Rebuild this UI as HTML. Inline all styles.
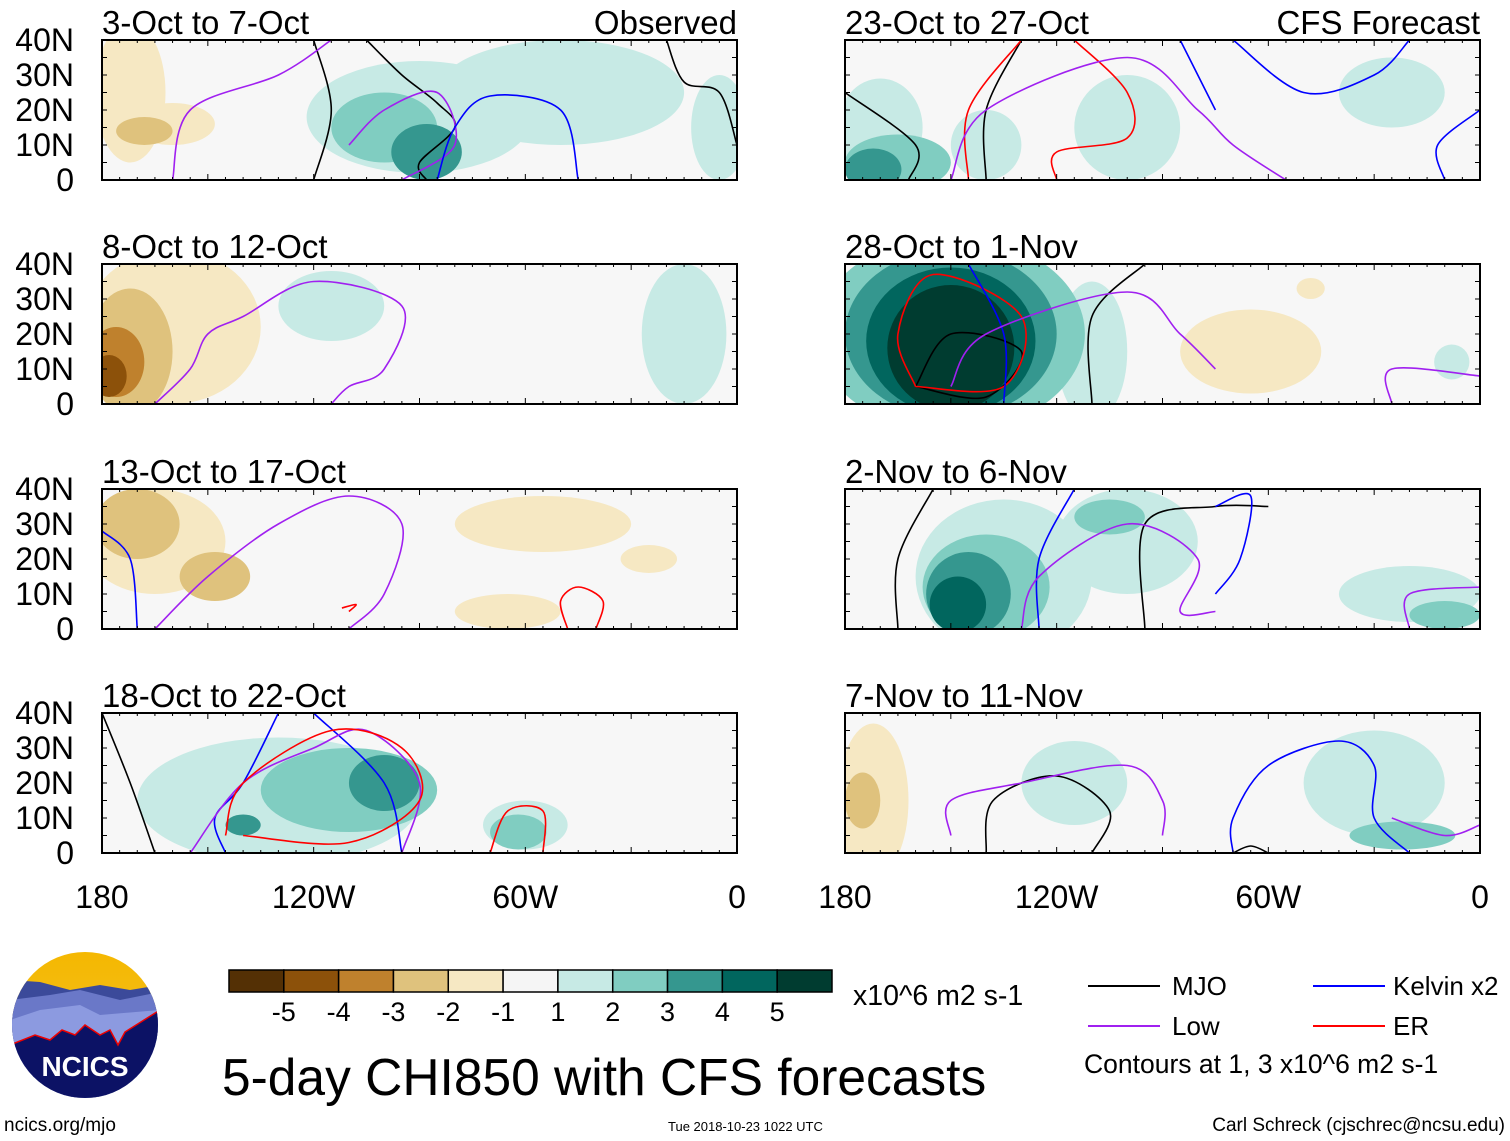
<!DOCTYPE html>
<html><head><meta charset="utf-8"><style>
body{margin:0;background:#fff;}
svg{display:block;font-family:"Liberation Sans",Arial,sans-serif;}
</style></head><body>
<svg id="chart" width="1510" height="1141" viewBox="0 0 1510 1141" xmlns="http://www.w3.org/2000/svg">
<defs>
<linearGradient id="sky" x1="0" y1="0" x2="0" y2="1"><stop offset="0" stop-color="#f5b800"/><stop offset="1" stop-color="#f0c030"/></linearGradient>
<clipPath id="logoclip"><circle cx="85" cy="1025" r="73"/></clipPath>
</defs>
<g clip-path="url(#logoclip)">
<rect x="10" y="950" width="150" height="150" fill="url(#sky)"/>
<path d="M10 980 L40 982 L70 990 L100 985 L130 990 L160 985 L160 1100 L10 1100Z" fill="#3b4a9a"/>
<path d="M10 1000 L50 995 L80 990 L120 1000 L160 992 L160 1100 L10 1100Z" fill="#6a78c8"/>
<path d="M10 1020 L40 1010 L80 1005 L100 1015 L160 1010 L160 1100 L10 1100Z" fill="#8c9ae0"/>
<path d="M10 1045 L35 1035 L50 1040 L62 1030 L75 1035 L85 1025 L100 1035 L110 1030 L118 1045 L125 1032 L160 1010 L160 1100 L10 1100Z" fill="#0c1265" stroke="#e00" stroke-width="1.5"/>
</g>
<text x="85" y="1076" text-anchor="middle" font-size="28" font-weight="bold" fill="#fff">NCICS</text>
<text x="4" y="1131" font-size="19">ncics.org/mjo</text>
<text x="222" y="1095" font-size="51.5">5-day CHI850 with CFS forecasts</text>
<text x="668" y="1131" font-size="13">Tue 2018-10-23 1022 UTC</text>
<text x="1505" y="1131" font-size="19" text-anchor="end">Carl Schreck (cjschrec@ncsu.edu)</text>
<text x="853" y="1005" font-size="28.5">x10^6 m2 s-1</text>
<g>
<line x1="1088" y1="986" x2="1160" y2="986" stroke="#000" stroke-width="2"/><text x="1172" y="995" font-size="26">MJO</text>
<line x1="1088" y1="1026" x2="1160" y2="1026" stroke="#a020f0" stroke-width="2"/><text x="1172" y="1035" font-size="26">Low</text>
<line x1="1313" y1="986" x2="1385" y2="986" stroke="#0000ff" stroke-width="2"/><text x="1393" y="995" font-size="26">Kelvin x2</text>
<line x1="1313" y1="1026" x2="1385" y2="1026" stroke="#ff0000" stroke-width="2"/><text x="1393" y="1035" font-size="26">ER</text>
<text x="1084" y="1073" font-size="26.5">Contours at 1, 3 x10^6 m2 s-1</text>
</g>
<g id="cbar"></g>
<g id="panels"></g>
</svg>
<script>
const levelColors=["#543005","#8c510a","#bf812d","#dfc27d","#f6e8c3","#f5f5f5","#c7eae5","#80cdc1","#35978f","#01665e","#003c30"];
const cbarLabels=["-5","-4","-3","-2","-1","1","2","3","4","5"];
const panelTitles=["3-Oct to 7-Oct","8-Oct to 12-Oct","13-Oct to 17-Oct","18-Oct to 22-Oct","23-Oct to 27-Oct","28-Oct to 1-Nov","2-Nov to 6-Nov","7-Nov to 11-Nov"];
const latTicks=[0,10,20,30,40];
const latTickLabels=["0","10N","20N","30N","40N"];
const lonTicks=[-180,-120,-60,0];
const lonTickLabels=["180","120W","60W","0"];
// blobs: [lon, lat, rxDeg, ryDeg, level]
const blobs0=[[-172,25,10,20,-1],[-160,16,12,6,-1],[-168,14,8,4,-2],[-90,18,32,16,1],[-50,25,35,15,1],[-100,15,15,10,2],[-88,8,10,8,3],[-5,15,8,15,1]];
const blobs1=[[-160,22,25,22,-1],[-172,15,12,18,-2],[-176,12,8,10,-3],[-178,8,5,6,-4],[-115,28,15,10,1],[-15,20,12,20,1]];
const blobs2=[[-165,25,20,15,-1],[-170,30,12,10,-2],[-148,15,10,7,-2],[-55,30,25,8,-1],[-65,5,15,5,-1],[-25,20,8,4,-1]];
const blobs3=[[-130,15,40,18,1],[-110,18,25,12,2],[-100,20,10,8,3],[-140,8,5,3,3],[-60,8,12,7,1],[-62,6,8,5,2]];
const blobs4=[[-170,15,12,14,1],[-165,5,15,8,2],[-172,3,8,6,3],[-140,10,10,10,1],[-100,15,15,15,1],[-25,25,15,10,1]];
const blobs5=[[-150,20,38,28,2],[-150,20,30,24,3],[-150,18,24,21,4],[-150,16,18,18,5],[-110,15,10,20,1],[-65,15,20,12,-1],[-48,33,4,3,-1],[-8,12,5,5,1]];
const blobs6=[[-135,15,25,22,1],[-140,12,18,15,2],[-145,10,12,12,3],[-148,7,8,8,4],[-100,25,20,15,1],[-105,32,10,5,2],[-20,10,20,8,1],[-10,4,10,4,2]];
const blobs7=[[-172,15,10,22,-1],[-175,15,5,8,-2],[-115,20,15,12,1],[-30,20,20,15,1],[-22,5,15,4,2]];
const panelBlobs=[blobs0,blobs1,blobs2,blobs3,blobs4,blobs5,blobs6,blobs7];
// contours: [color, [[lon,lat],...]]
const contours0=[["#000",[[-120,0],[-115,20],[-120,40]]],["#000",[[-105,40],[-95,30],[-85,22],[-80,15],[-90,5],[-88,0]]],["#a020f0",[[-160,0],[-155,20],[-130,30],[-115,40]]],["#a020f0",[[-110,10],[-100,20],[-85,25],[-80,10],[-95,0]]],["#0000ff",[[-85,0],[-80,15],[-70,24],[-50,20],[-45,0]]],["#000",[[-20,40],[-15,28],[-5,25],[0,10]]]];
const contours1=[["#a020f0",[[-165,0],[-155,10],[-150,20],[-140,25],[-120,35],[-95,28],[-100,10],[-110,5],[-115,0]]]];
const contours2=[["#0000ff",[[-180,28],[-172,20],[-170,0]]],["#a020f0",[[-165,0],[-150,15],[-130,30],[-110,38],[-95,30],[-100,10],[-110,0]]],["#ff0000",[[-48,0],[-50,8],[-45,12],[-38,8],[-40,0]]],["#ff0000",[[-112,6],[-108,7],[-110,5]]]];
const contours3=[["#000",[[-180,40],[-172,20],[-165,0]]],["#0000ff",[[-145,0],[-148,10],[-140,20],[-130,40]]],["#0000ff",[[-95,0],[-100,20],[-120,40]]],["#a020f0",[[-155,0],[-140,20],[-120,30],[-105,35],[-90,20],[-95,0]]],["#ff0000",[[-145,5],[-140,20],[-115,35],[-95,30],[-90,15],[-110,3],[-140,5]]],["#ff0000",[[-70,0],[-65,12],[-55,12],[-55,0]]]];
const contours4=[["#000",[[-180,25],[-160,10],[-162,0]]],["#000",[[-140,0],[-140,20],[-130,40]]],["#ff0000",[[-145,0],[-145,20],[-130,40]]],["#ff0000",[[-115,40],[-100,25],[-100,12],[-120,8],[-120,0]]],["#a020f0",[[-150,0],[-140,20],[-100,35],[-80,20],[-70,10],[-55,0]]],["#0000ff",[[-85,40],[-80,30],[-75,20]]],["#0000ff",[[-70,40],[-50,25],[-30,30],[-20,40]]],["#0000ff",[[-10,0],[-12,10],[0,20]]]];
const contours5=[["#000",[[-160,5],[-150,20],[-130,15],[-140,2],[-160,5]]],["#ff0000",[[-160,5],[-165,20],[-155,37],[-130,25],[-135,5],[-160,5]]],["#0000ff",[[-135,0],[-135,20],[-145,40]]],["#000",[[-110,0],[-110,25],[-95,40]]],["#a020f0",[[-150,5],[-140,20],[-100,32],[-85,20],[-75,10]]],["#a020f0",[[-25,0],[-25,10],[0,8]]]];
const contours6=[["#000",[[-165,0],[-165,20],[-155,40]]],["#0000ff",[[-125,0],[-125,20],[-115,40]]],["#000",[[-95,0],[-95,30],[-75,35],[-60,35]]],["#a020f0",[[-130,0],[-125,15],[-100,30],[-80,20],[-85,5],[-75,5]]],["#0000ff",[[-75,35],[-65,38],[-68,20],[-75,10]]],["#a020f0",[[-20,0],[-20,10],[0,12]]]];
const contours7=[["#000",[[-140,0],[-138,15],[-120,22],[-105,12],[-110,0]]],["#a020f0",[[-150,5],[-150,15],[-130,20],[-100,25],[-90,15],[-90,5]]],["#0000ff",[[-70,0],[-70,10],[-60,25],[-40,32],[-30,25],[-30,10],[-20,0]]],["#a020f0",[[-25,10],[-10,5],[0,8]]],["#000",[[-70,0],[-65,2],[-60,0]]]];
const panelContours=[contours0,contours1,contours2,contours3,contours4,contours5,contours6,contours7];

const NS="http://www.w3.org/2000/svg";
function mk(tag,attrs,parent){const e=document.createElementNS(NS,tag);for(const k in attrs)e.setAttribute(k,attrs[k]);parent.appendChild(e);return e;}
function smooth(pts){
  if(pts.length<3)return 'M'+pts.map(p=>p.join(',')).join(' L');
  let d='M'+pts[0][0]+','+pts[0][1];
  for(let i=0;i<pts.length-1;i++){
    const p0=pts[i-1]||pts[i],p1=pts[i],p2=pts[i+1],p3=pts[i+2]||p2;
    const c1=[p1[0]+(p2[0]-p0[0])/6,p1[1]+(p2[1]-p0[1])/6];
    const c2=[p2[0]-(p3[0]-p1[0])/6,p2[1]-(p3[1]-p1[1])/6];
    d+=' C'+c1.join(',')+' '+c2.join(',')+' '+p2.join(',');
  }
  return d;
}
const colX=[102,845], rowBottom=[180,404,629,853], PW=635, PH=140;
const levelIndex=v=>5+v;
const root=document.getElementById('panels');
panelTitles.forEach((title,i)=>{
  const col=i<4?0:1,row=i%4;
  const x0=colX[col],yb=rowBottom[row];
  const xs=lon=>x0+(lon+180)/180*PW, ys=lat=>yb-lat/40*PH;
  const g=mk('g',{},root);
  
  
  const cp=mk('clipPath',{id:'cp'+i},g);
  mk('rect',{x:x0,y:yb-PH,width:PW,height:PH},cp);
  mk('rect',{x:x0,y:yb-PH,width:PW,height:PH,fill:'#f7f7f7'},g);
  const sh=mk('g',{'clip-path':'url(#cp'+i+')'},g);
  const bl=panelBlobs[i].slice().sort((a,b)=>Math.abs(a[4])-Math.abs(b[4]));
  bl.forEach(b=>{
    const e=mk('ellipse',{cx:xs(b[0]),cy:ys(b[1]),rx:b[2]/180*PW,ry:b[3]/40*PH,fill:levelColors[levelIndex(b[4])]},sh);
    
    
  });
  panelContours[i].forEach(c=>{
    const p=mk('path',{d:smooth(c[1].map(q=>[xs(q[0]),ys(q[1])])),fill:'none',stroke:c[0],'stroke-width':1.6,'stroke-linejoin':'round'},sh);
    
    
  });
  mk('rect',{x:x0,y:yb-PH,width:PW,height:PH,fill:'none',stroke:'#000','stroke-width':2},g);
  for(let lon=-180;lon<=0;lon+=5){mk('line',{x1:xs(lon),y1:yb,x2:xs(lon),y2:yb-(lon%30?3:6),stroke:'#000'},g);mk('line',{x1:xs(lon),y1:yb-PH,x2:xs(lon),y2:yb-PH+(lon%30?3:6),stroke:'#000'},g);}
  for(let lat=0;lat<=40;lat+=5){mk('line',{x1:x0,y1:ys(lat),x2:x0+5,y2:ys(lat),stroke:'#000'},g);mk('line',{x1:x0+PW,y1:ys(lat),x2:x0+PW-5,y2:ys(lat),stroke:'#000'},g);}
  const t=mk('text',{x:x0,y:yb-PH-6,'font-size':33},g);t.textContent=title;
  
  
  if(i===0||i===4){const s=mk('text',{x:x0+PW,y:yb-PH-6,'font-size':33,'text-anchor':'end'},g);s.textContent=i===0?'Observed':'CFS Forecast';
    
    }
  if(col===0){latTicks.forEach((lat,k)=>{const l=mk('text',{x:74,y:ys(lat)+11,'font-size':32,'text-anchor':'end'},g);l.textContent=latTickLabels[k];
    
    });}
  if(row===3){lonTicks.forEach((lon,k)=>{const l=mk('text',{x:xs(lon),y:908,'font-size':32,'text-anchor':'middle'},g);l.textContent=lonTickLabels[k];
    
    });}
});
const cb=document.getElementById('cbar');
const cbx=229,cbw=603/levelColors.length;
levelColors.forEach((c,k)=>{const r=mk('rect',{x:cbx+k*cbw,y:970,width:cbw,height:22,fill:c,stroke:'#000','stroke-width':1.5},cb);
  
  });
cbarLabels.forEach((s,k)=>{const t=mk('text',{x:cbx+(k+1)*cbw,y:1021,'font-size':27,'text-anchor':'middle'},cb);t.textContent=s;
  
  });
</script>
</body></html>
